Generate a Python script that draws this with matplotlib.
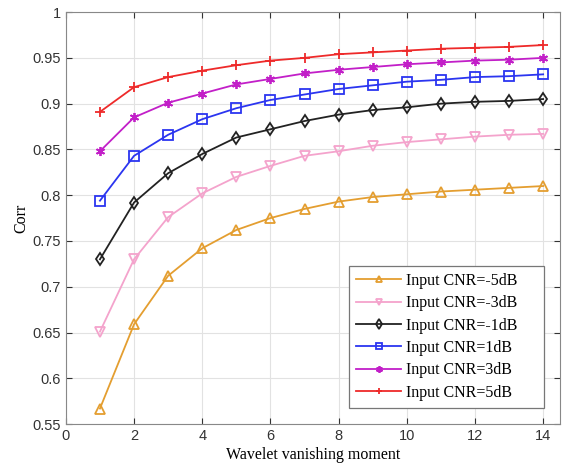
import numpy as np
import matplotlib
matplotlib.use("Agg")
import matplotlib.pyplot as plt

# wavelet vanishing moment
x = np.arange(1, 15)

corr_m5 = [0.567, 0.659, 0.712, 0.742, 0.762, 0.775, 0.785, 0.793, 0.798, 0.801, 0.804, 0.806, 0.808, 0.810]
corr_m3 = [0.651, 0.730, 0.776, 0.802, 0.820, 0.832, 0.843, 0.848, 0.854, 0.858, 0.861, 0.864, 0.866, 0.867]
corr_m1 = [0.730, 0.792, 0.824, 0.845, 0.863, 0.872, 0.881, 0.888, 0.893, 0.896, 0.900, 0.902, 0.903, 0.905]
corr_p1 = [0.794, 0.843, 0.866, 0.883, 0.895, 0.904, 0.910, 0.916, 0.920, 0.924, 0.926, 0.929, 0.930, 0.932]
corr_p3 = [0.848, 0.885, 0.901, 0.911, 0.921, 0.927, 0.933, 0.937, 0.940, 0.943, 0.945, 0.947, 0.948, 0.950]
corr_p5 = [0.891, 0.918, 0.929, 0.936, 0.942, 0.947, 0.950, 0.954, 0.956, 0.958, 0.960, 0.961, 0.962, 0.964]

labels = ["Input CNR=-5dB", "Input CNR=-3dB", "Input CNR=-1dB",
          "Input CNR=1dB", "Input CNR=3dB", "Input CNR=5dB"]

series = [corr_m5, corr_m3, corr_m1, corr_p1, corr_p3, corr_p5]
colors = ["#E49E30", "#F4A3CC", "#222222", "#2B35F0", "#C21FC8", "#EE2A2A"]
markers = ["^", "v", "d", "s", (6, 2, 0), "+"]

fig = plt.figure(figsize=(5.63, 4.65), dpi=100)
ax = fig.add_axes([0.117, 0.088, 0.878, 0.886])

for y, c, m, lab in zip(series, colors, markers, labels):
    ax.plot(x, y, color=c, marker=m, markersize=6.5, markerfacecolor="none",
            markeredgecolor=c, markeredgewidth=1.3, linewidth=1.3, label=lab)

ax.set_xlim(0, 14.5)
ax.set_ylim(0.55, 1.0)
ax.set_xticks(range(0, 15, 2))
ax.set_yticks(np.arange(0.55, 1.001, 0.05))
ax.set_yticklabels(["0.55", "0.6", "0.65", "0.7", "0.75", "0.8", "0.85", "0.9", "0.95", "1"])

ax.grid(True, color="#e2e2e2", linewidth=0.8)
ax.tick_params(direction="in", right=True, top=True, labelsize=10.5, colors="#333333",
               length=4)
for lbl in ax.get_xticklabels() + ax.get_yticklabels():
    lbl.set_fontfamily("Liberation Sans")
for s in ax.spines.values():
    s.set_color("#888888")

ax.set_xlabel("Wavelet vanishing moment", fontfamily="Liberation Serif", fontsize=11.5, labelpad=3)
ax.set_ylabel("Corr", fontfamily="Liberation Serif", fontsize=11.5, labelpad=2)

leg = ax.legend(loc="lower left", prop={"family": "Liberation Serif", "size": 11.5},
                fancybox=False, edgecolor="#777777", framealpha=1,
                borderpad=0.45, labelspacing=0.4, handlelength=2.8,
                handletextpad=0.3, borderaxespad=0, markerscale=0.75,
                mode="expand", bbox_to_anchor=(0.573, 0.039, 0.395, 0.3))
leg.get_frame().set_linewidth(0.9)

fig.savefig("out.png", dpi=100)
